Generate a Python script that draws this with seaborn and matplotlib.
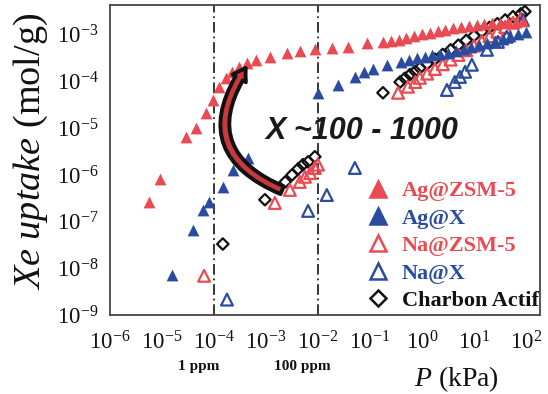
import numpy as np
import pandas as pd
import matplotlib
matplotlib.use("Agg")
import matplotlib.pyplot as plt
import seaborn as sns
from matplotlib.lines import Line2D
from matplotlib.patches import FancyArrowPatch
from matplotlib.ticker import LogLocator, LogFormatterSciNotation, NullFormatter

# ---------------- data (log10 of P in kPa, log10 of uptake in mol/g) -------------
ag_zsm_logp = [-5.25, -5.04, -4.54, -4.35, -4.15, -4.02, -3.90, -3.77, -3.65, -3.52,
               -3.37, -3.19, -2.92, -2.60, -2.35, -2.06, -1.73, -1.42, -1.06, -0.75,
               -0.60, -0.45, -0.30, -0.15, 0.00, 0.15, 0.30, 0.45, 0.60, 0.75, 0.90,
               1.05, 1.20, 1.35, 1.50, 1.65, 1.80, 1.95]
ag_zsm_logq = [-6.58, -6.08, -5.18, -4.99, -4.67, -4.39, -4.11, -3.92, -3.79, -3.69,
               -3.60, -3.54, -3.47, -3.39, -3.34, -3.30, -3.28, -3.26, -3.17, -3.15,
               -3.13, -3.10, -3.06, -3.03, -2.99, -2.96, -2.92, -2.89, -2.86, -2.83,
               -2.80, -2.78, -2.76, -2.75, -2.74, -2.73, -2.72, -2.71]

ag_x_logp = [-4.81, -4.40, -4.21, -4.10, -3.83, -3.63, -3.35, -2.00, -1.62, -1.29,
             -1.12, -0.94, -0.67, -0.40, -0.25, -0.10, 0.05, 0.20, 0.35, 0.50, 0.65,
             0.80, 0.95, 1.10, 1.25, 1.40, 1.55, 1.70, 1.85, 2.00]
ag_x_logq = [-8.14, -7.18, -6.75, -6.58, -6.25, -5.89, -5.63, -4.24, -4.07, -3.90,
             -3.79, -3.73, -3.64, -3.58, -3.54, -3.50, -3.47, -3.44, -3.41, -3.38,
             -3.34, -3.30, -3.26, -3.22, -3.18, -3.13, -3.08, -3.03, -2.98, -2.94]

na_zsm_logp = [-4.19, -2.83, -2.54, -2.35, -2.25, -2.15, -2.06, -2.00,
               -0.46, -0.27, -0.13, -0.04, 0.10, 0.25, 0.40, 0.55, 0.70, 0.85, 1.00,
               1.15, 1.30, 1.45, 1.60, 1.75, 1.90]
na_zsm_logq = [-8.16, -6.60, -6.32, -6.15, -6.04, -5.96, -5.85, -5.78,
               -4.24, -4.11, -4.01, -3.92, -3.83, -3.73, -3.63, -3.53, -3.43, -3.33,
               -3.23, -3.13, -3.03, -2.93, -2.83, -2.74, -2.65]

na_x_logp = [-3.75, -2.19, -1.83, -1.29, 0.48, 0.63, 0.73, 0.83, 0.96, 1.25, 1.46,
             1.63, 1.94]
na_x_logq = [-8.67, -6.77, -6.43, -5.85, -4.18, -4.01, -3.90, -3.79, -3.64, -3.32,
             -3.15, -3.04, -2.68]

carbon_logp = [-3.83, -3.02, -2.63, -2.50, -2.38, -2.29, -2.19, -2.06,
               -0.75, -0.42, -0.33, -0.23, -0.13, -0.04, 0.10, 0.25, 0.40, 0.55, 0.70,
               0.85, 1.00, 1.15, 1.30, 1.45, 1.60, 1.75, 1.90, 1.98]
carbon_logq = [-7.48, -6.53, -6.15, -6.00, -5.87, -5.78, -5.72, -5.61,
               -4.24, -4.01, -3.93, -3.85, -3.78, -3.71, -3.62, -3.52, -3.42, -3.32,
               -3.22, -3.12, -3.02, -2.93, -2.84, -2.76, -2.68, -2.61, -2.55, -2.50]

series_names = ["Ag@ZSM-5", "Ag@X", "Na@ZSM-5", "Na@X", "Charbon Actif"]
series_colors = ["#ea4a52", "#2a4c9f", "#ea4a52", "#2a4c9f", "#111111"]
series_markers = ["^", "^", "^", "^", "D"]
series_filled = [True, True, False, False, False]
series_logp = [ag_zsm_logp, ag_x_logp, na_zsm_logp, na_x_logp, carbon_logp]
series_logq = [ag_zsm_logq, ag_x_logq, na_zsm_logq, na_x_logq, carbon_logq]

ref_lines = [1e-4, 1e-2]
ref_labels = ["1 ppm", "100 ppm"]

# ---------------- styling ---------------------------------------------------------
sns.set_style("white")
plt.rcParams["font.family"] = ["Liberation Serif", "DejaVu Serif"]
plt.rcParams["mathtext.fontset"] = "custom"
plt.rcParams["mathtext.rm"] = "Liberation Serif"
plt.rcParams["mathtext.it"] = "Liberation Serif:italic"
plt.rcParams["axes.unicode_minus"] = False

fig = plt.figure(figsize=(5.48, 3.94), dpi=100)
ax = fig.add_axes([0.2007, 0.2005, 0.7847, 0.7868])

frames = []
for name, lp, lq in zip(series_names, series_logp, series_logq):
    frames.append(pd.DataFrame({"P": 10.0 ** np.array(lp), "q": 10.0 ** np.array(lq),
                                "series": name}))
df = pd.concat(frames, ignore_index=True)

# draw the open series first, filled ones on top
order = [4, 2, 3, 1, 0]
for i in order:
    sub = df[df["series"] == series_names[i]]
    c = series_colors[i]
    size = 34 if series_markers[i] == "D" else 72
    sns.scatterplot(data=sub, x="P", y="q", ax=ax, marker=series_markers[i], s=size,
                    color=c, linewidth=1.6 if not series_filled[i] else 0,
                    legend=False, zorder=3)
    coll = ax.collections[-1]
    if series_filled[i]:
        coll.set_facecolor(c)
        coll.set_edgecolor(c)
    else:
        coll.set_facecolor("none")
        coll.set_edgecolor(c)

ax.set_xscale("log")
ax.set_yscale("log")
ax.set_xlim(1e-6, 10 ** 2.27)
ax.set_ylim(1e-9, 10 ** -2.36)

for xv in ref_lines:
    ax.axvline(xv, color="black", lw=1.1, ls=(0, (7, 2.5, 1.2, 2.5)), zorder=2)

ax.xaxis.set_major_locator(LogLocator(base=10, numticks=20))
ax.yaxis.set_major_locator(LogLocator(base=10, numticks=20))
ax.xaxis.set_minor_locator(LogLocator(base=10, subs=np.arange(2, 10), numticks=20))
ax.yaxis.set_minor_locator(LogLocator(base=10, subs=np.arange(2, 10), numticks=20))
ax.xaxis.set_major_formatter(LogFormatterSciNotation())
ax.yaxis.set_major_formatter(LogFormatterSciNotation())
ax.xaxis.set_minor_formatter(NullFormatter())
ax.yaxis.set_minor_formatter(NullFormatter())
ax.tick_params(which="major", direction="in", length=5, width=1.0, labelsize=16.5,
               colors="#222222", top=False, right=False)
ax.tick_params(axis="x", which="major", pad=12)
ax.tick_params(axis="y", which="major", pad=8)
ax.tick_params(which="minor", direction="in", length=3, width=0.8, top=False, right=False)
ax.tick_params(axis="both", labelcolor="#111111")
for sp in ax.spines.values():
    sp.set_color("#444444")
    sp.set_linewidth(1.3)

ax.set_xlabel("")
ax.set_ylabel("")
fig.text(0.057, 0.615, r"$\mathit{Xe\ uptake}$ (mol/g)", rotation=90, fontsize=27.5,
         ha="center", va="center", color="#111111")
fig.text(0.833, 0.038, r"$\mathit{P}$ (kPa)", fontsize=20, ha="center", va="center",
         color="#111111")

for xv, lab in zip(ref_lines, ref_labels):
    ax.annotate(lab, xy=(xv, 0), xycoords=("data", "axes fraction"),
                xytext=(-11, -37), textcoords="offset points", ha="center",
                va="center", fontsize=11, fontweight="bold", color="#111111")

# curved arrow
arrow = FancyArrowPatch((10 ** -2.64, 10 ** -6.35), (10 ** -3.36, 10 ** -3.66),
                        connectionstyle="arc3,rad=-0.62",
                        arrowstyle="simple,head_width=1.0,head_length=0.8,tail_width=0.55",
                        mutation_scale=11, fc="#c8383c", ec="#111111", lw=2.8, zorder=5)
ax.add_patch(arrow)

ax.text(10 ** -1.15, 10 ** -5.06, "X ~100 - 1000", fontsize=22, fontweight="bold",
        fontstyle="italic", family="Liberation Sans", ha="center", va="center",
        color="#1a1a1a", zorder=6)

# legend
handles = []
for i in range(5):
    c = series_colors[i]
    handles.append(Line2D([], [], ls="none", marker=series_markers[i],
                          markersize=11.5 if series_markers[i] == "^" else 8.5,
                          markerfacecolor=c if series_filled[i] else "none",
                          markeredgecolor=c, markeredgewidth=1.8))
leg = ax.legend(handles, series_names, loc="upper left",
                bbox_to_anchor=(0.598, 0.433), frameon=False,
                prop={"family": "Liberation Serif", "weight": "bold", "size": 16},
                labelcolor=series_colors, handlelength=1.0, handletextpad=0.55,
                labelspacing=0.31, borderaxespad=0, borderpad=0)
leg.set_zorder(7)

fig.savefig("out.png", dpi=100)
